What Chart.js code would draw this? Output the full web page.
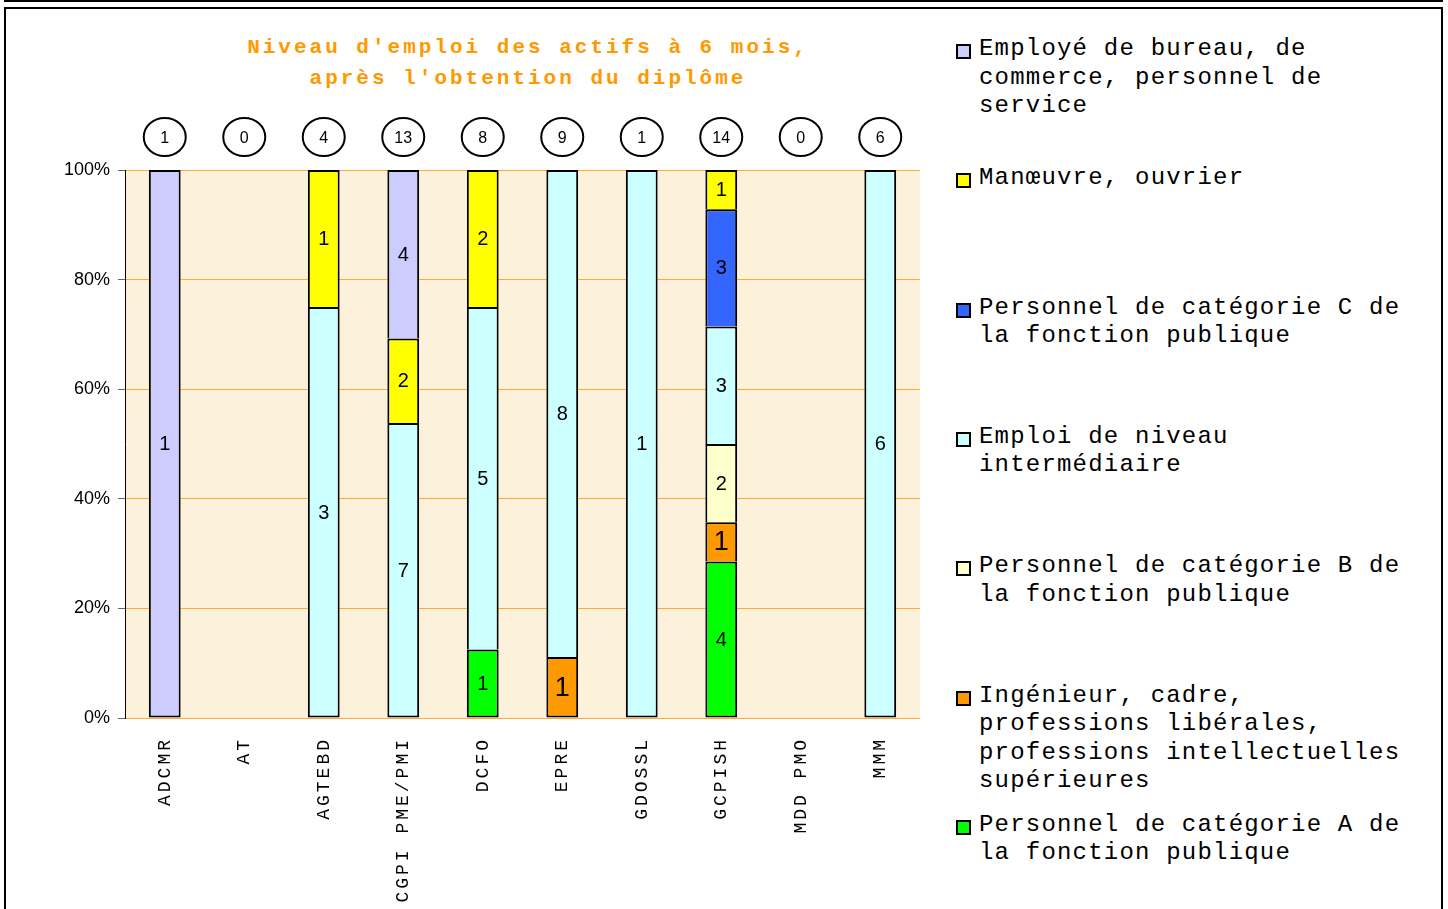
<!DOCTYPE html>
<html lang="fr">
<head>
<meta charset="utf-8">
<title>Niveau d'emploi des actifs à 6 mois</title>
<script src="https://cdn.jsdelivr.net/npm/chart.js@4.4.1/dist/chart.umd.min.js"></script>
<style>
  html, body { margin: 0; padding: 0; background: #fff; overflow: hidden; }
  #top   { position: absolute; left: 4px; top: -4px; width: 1435px; height: 4px; border: 2px solid #000; border-top: none; }
  #frame { position: absolute; left: 4px; top: 7px; width: 1435px; height: 920px; border: 2px solid #000; }
  #wrap  { position: absolute; left: 0; top: 0; width: 940px; height: 909px; }
  #title {
    position: absolute; left: 128px; top: 32px; width: 800px; text-align: center;
    font: bold 21px 'Liberation Mono', monospace; letter-spacing: 3px; line-height: 31px; color: #FF9900;
  }
  .leg {
    position: absolute; left: 979px; width: 440px; color: #000;
    font: 24px 'Liberation Mono', monospace; letter-spacing: 1.2px; line-height: 28.5px;
  }
  .leg i { position: absolute; left: -23px; top: 9px; width: 11px; height: 11px; border: 2px solid #000; }
</style>
</head>
<body>
<div id="top"></div>
<div id="frame"></div>
<div id="title">Niveau d'emploi des actifs à 6 mois,<br>après l'obtention du diplôme</div>
<div id="legend"></div>
<div id="wrap"><canvas id="chart"></canvas></div>

<script>
'use strict';

// ── Data (effectifs par formation) ────────────────────────────────
const formations = ['ADCMR', 'AT', 'AGTEBD', 'CGPI PME/PMI', 'DCFO', 'EPRE', 'GDOSSL', 'GCPISH', 'MDD PMO', 'MMM'];

// stacking order: first = bottom of the bar
const catA          = [0, 0, 0, 0, 1, 0, 0, 4, 0, 0];
const ingenieur     = [0, 0, 0, 0, 0, 1, 0, 1, 0, 0];
const catB          = [0, 0, 0, 0, 0, 0, 0, 2, 0, 0];
const intermediaire = [0, 0, 3, 7, 5, 8, 1, 3, 0, 6];
const catC          = [0, 0, 0, 0, 0, 0, 0, 3, 0, 0];
const manoeuvre     = [0, 0, 1, 2, 2, 0, 0, 1, 0, 0];
const employe       = [1, 0, 0, 4, 0, 0, 0, 0, 0, 0];

const yTicks = [0, 20, 40, 60, 80, 100];

const series = [
  { label: 'Personnel de catégorie A de la fonction publique', data: catA, color: '#00FF00' },
  { label: 'Ingénieur, cadre, professions libérales, professions intellectuelles supérieures', data: ingenieur, color: '#FF9900' },
  { label: 'Personnel de catégorie B de la fonction publique', data: catB, color: '#FFFFCC' },
  { label: 'Emploi de niveau intermédiaire', data: intermediaire, color: '#CCFFFF' },
  { label: 'Personnel de catégorie C de la fonction publique', data: catC, color: '#3366FF' },
  { label: 'Manœuvre, ouvrier', data: manoeuvre, color: '#FFFF00' },
  { label: 'Employé de bureau, de commerce, personnel de service', data: employe, color: '#CCCCFF' }
];

const totals = formations.map((_, i) => series.reduce((s, d) => s + d.data[i], 0));
const pct = arr => arr.map((v, i) => totals[i] ? v / totals[i] * 100 : 0);

// lowest non-empty segment keeps its bottom border, others share the one above
const isBottomSeg = (di, i) => series.slice(0, di).every(s => !s.data[i]);

// ── Legend (html, top = last series) ──────────────────────────────
const legendEl = document.getElementById('legend');
series.slice().reverse().forEach((s, k) => {
  const d = document.createElement('div');
  d.className = 'leg';
  d.style.top = (35 + k * 129.3) + 'px';
  d.innerHTML = `<i style="background:${s.color}"></i>${s.label}`;
  legendEl.appendChild(d);
});

// ── Plugins ───────────────────────────────────────────────────────
const plotBg = {
  id: 'plotBg',
  beforeDraw(chart) {
    const { ctx, chartArea: a } = chart;
    ctx.save();
    ctx.fillStyle = '#FCF2DB';
    ctx.fillRect(a.left, a.top, a.right - a.left, a.bottom - a.top);
    ctx.restore();
  }
};

const segLabels = {
  id: 'segLabels',
  afterDatasetsDraw(chart) {
    const ctx = chart.ctx;
    ctx.save();
    ctx.fillStyle = '#000';
    ctx.textAlign = 'center';
    ctx.textBaseline = 'middle';
    series.forEach((s, di) => {
      chart.getDatasetMeta(di).data.forEach((bar, i) => {
        const n = s.data[i];
        if (!n) return;
        const { x, y, base } = bar.getProps(['x', 'y', 'base'], true);
        ctx.font = (di === 1 ? '27px' : '20px') + ' "Liberation Sans", Arial, sans-serif';
        ctx.fillText(String(n), x, (y + base) / 2 + 1);
      });
    });
    ctx.restore();
  }
};

const totalsAndLabels = {
  id: 'totalsAndLabels',
  afterDraw(chart) {
    const ctx = chart.ctx, xs = chart.scales.x;
    ctx.save();
    // totals in ellipses
    formations.forEach((_, i) => {
      const x = xs.getPixelForValue(i);
      ctx.beginPath();
      ctx.ellipse(x, 137, 21, 19, 0, 0, Math.PI * 2);
      ctx.fillStyle = '#fff';
      ctx.fill();
      ctx.lineWidth = 2;
      ctx.strokeStyle = '#000';
      ctx.stroke();
      ctx.fillStyle = '#000';
      ctx.font = '16px "Liberation Sans", Arial, sans-serif';
      ctx.textAlign = 'center';
      ctx.textBaseline = 'middle';
      ctx.fillText(String(totals[i]), x, 139);
    });
    // rotated category labels
    ctx.font = '18px "Liberation Mono", monospace';
    ctx.letterSpacing = '3px';
    ctx.textAlign = 'right';
    ctx.textBaseline = 'middle';
    formations.forEach((f, i) => {
      ctx.save();
      ctx.translate(xs.getPixelForValue(i), 737);
      ctx.rotate(-Math.PI / 2);
      ctx.fillText(f, 0, 0);
      ctx.restore();
    });
    ctx.letterSpacing = '0px';
    ctx.restore();
  }
};

// ── Chart ─────────────────────────────────────────────────────────
new Chart(document.getElementById('chart').getContext('2d'), {
  type: 'bar',
  data: {
    labels: formations,
    datasets: series.map(s => ({
      label: s.label,
      data: pct(s.data),
      backgroundColor: s.color,
      borderColor: '#000',
      borderWidth: c => ({ top: 2, left: 2, right: 2, bottom: isBottomSeg(c.datasetIndex, c.dataIndex) ? 2 : 0 }),
      borderSkipped: false,
      inflateAmount: 0,
      categoryPercentage: 1,
      barPercentage: 0.4
    }))
  },
  options: {
    responsive: true, maintainAspectRatio: false,
    animation: false,
    layout: { padding: { left: 0, right: 20, top: 170, bottom: 0 } },
    scales: {
      x: {
        stacked: true,
        grid: { display: false },
        border: { display: false },
        ticks: { display: false },
        afterFit: s => { s.height = 191; }
      },
      y: {
        stacked: true, min: 0, max: 100,
        afterBuildTicks: s => { s.ticks = yTicks.map(v => ({ value: v })); },
        afterFit: s => { s.width = 125; },
        grid: { color: '#FFAA33', lineWidth: 1, tickLength: 7, tickColor: '#666' },
        border: { display: true, color: '#000', width: 1 },
        ticks: {
          padding: 8, color: '#000',
          font: { size: 18, family: '"Liberation Sans", Arial, sans-serif' },
          callback: v => v + '%'
        }
      }
    },
    plugins: {
      legend: { display: false },
      title: { display: false },
      tooltip: { enabled: false }
    }
  },
  plugins: [plotBg, segLabels, totalsAndLabels]
});
</script>
</body>
</html>
